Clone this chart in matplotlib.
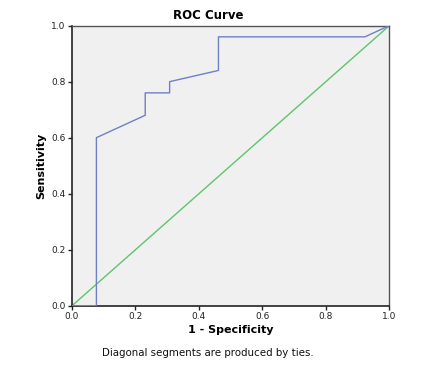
import matplotlib
matplotlib.use("Agg")
import matplotlib.pyplot as plt

# ROC curve points (1 - specificity, sensitivity)
fpr = [0.0, 1/13, 1/13, 3/13, 3/13, 4/13, 4/13, 6/13, 6/13, 12/13, 1.0]
tpr = [0.0, 0.0, 0.60, 0.68, 0.76, 0.76, 0.80, 0.84, 0.96, 0.96, 1.0]
ref_line = [0.0, 1.0]
ticks = [0.0, 0.2, 0.4, 0.6, 0.8, 1.0]

fig = plt.figure(figsize=(4.35, 3.77), dpi=100)
ax = fig.add_axes([0.1655, 0.189, 0.7295, 0.743])
ax.set_facecolor("#f0f0f0")

ax.plot(ref_line, ref_line, color="#5cc66a", lw=1.0, zorder=2)
ax.plot(fpr, tpr, color="#6f80c6", lw=1.0, zorder=3)

ax.set_xlim(0, 1)
ax.set_ylim(0, 1)
ax.set_xticks(ticks)
ax.set_yticks(ticks)
ax.set_xticklabels([f"{t:.1f}" for t in ticks], fontsize=6.5)
ax.set_yticklabels([f"{t:.1f}" for t in ticks], fontsize=6.5)
ax.tick_params(direction="out", length=3, width=1, pad=1.5, colors="#222222")

for side in ["left", "bottom"]:
    ax.spines[side].set_color("#222222")
    ax.spines[side].set_linewidth(1.2)
for side in ["top", "right"]:
    ax.spines[side].set_color("#555555")
    ax.spines[side].set_linewidth(1.0)

# title is centred over the whole chart, not the plot area
fig.text(0.478, 0.958, "ROC Curve", fontsize=8.5, fontweight="bold",
         ha="center", va="center")
ax.set_xlabel("1 - Specificity", fontsize=8, fontweight="bold", labelpad=3)
ax.set_ylabel("Sensitivity", fontsize=8, fontweight="bold", labelpad=4)

fig.text(0.477, 0.063, "Diagonal segments are produced by ties.", fontsize=7.4,
         ha="center", va="center", color="#111111")

fig.savefig("out.png", dpi=100)
